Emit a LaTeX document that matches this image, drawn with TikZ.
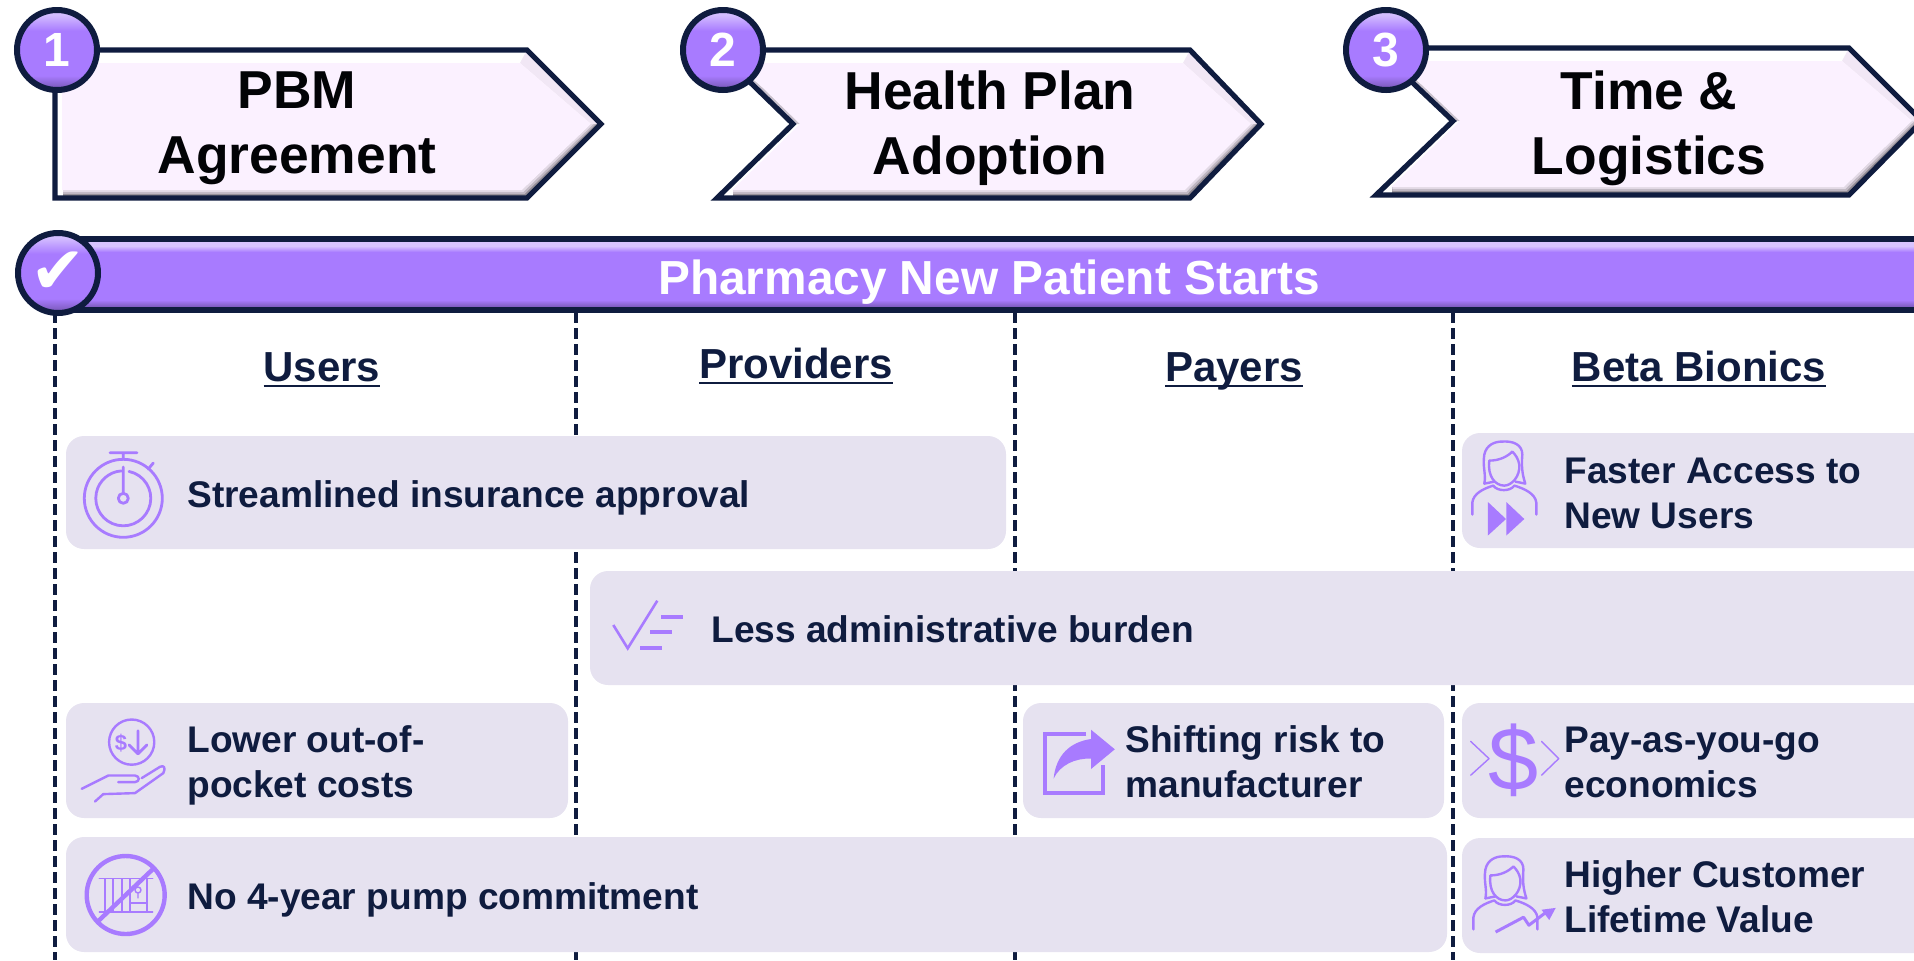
\documentclass[tikz,border=0pt]{standalone}
\usepackage{fontspec}
\setmainfont{Liberation Sans}
\newfontfamily\dejavu{DejaVu Sans}
\usepackage{tikz}
\definecolor{navy}{HTML}{0F1C3F}
\definecolor{violet}{HTML}{A87BFF}
\definecolor{cardgray}{HTML}{E6E2F0}
\definecolor{blush}{HTML}{FBF1FF}
\colorlet{glosstop}{violet!50!white}
\colorlet{glossbot}{violet!75!black}
\pgfdeclareverticalshading{gloss}{100bp}{color(0bp)=(glossbot);color(27bp)=(glossbot);color(34bp)=(violet);color(62bp)=(violet);color(72bp)=(glosstop);color(100bp)=(glosstop)}

\newcommand{\headline}[1]{\setbox0=\hbox{#1}\rlap{\rule[-3.2pt]{\wd0}{1.4pt}}\box0}

% left, notch, shoulder, tip, top, bottom, middle
\newcommand{\signpost}[7]{
  \fill[white] (#1,#5) -- (#3,#5) -- (#4,#7) -- (#3,#6) -- (#1,#6) -- (#2,#7) -- cycle;
  \fill[black!4!blush] (#3,#5) -- (#4,#7) -- ({#4-10},#7) -- ({#3-7},{#5+13}) -- cycle;
  \foreach \f/\g in {1/60,0.75/42,0.5/24,0.25/10}
    \fill[black!\g!blush] ({#4-10*(1-\f)},#7) -- ({#3-5*(1-\f)},{#6-8*(1-\f)}) -- ({#1+8+(#2-#1)*8/(#6-#7)},{#6-8*(1-\f)})
      -- ({#1+8+(#2-#1)*8/(#6-#7)},{#6-8}) -- ({#3-5},{#6-8}) -- ({#4-10},#7) -- cycle;
  \fill[black!20!blush] (#1,#5) -- (#2,#7) -- ({#2+14*(#2-#1)/76},#7) -- ({#1+16*(#2-#1)/76},{#5+13}) -- cycle;
  \fill[blush] ({#1+7+(#2-#1)*13/(#7-#5)},{#5+13}) -- ({#3-7},{#5+13}) -- ({#4-10},#7)
    -- ({#3-5},{#6-8}) -- ({#1+7+(#2-#1)*8/(#6-#7)},{#6-8}) -- ({#2+7},#7) -- cycle;
  \draw[outline] (#1,#5) -- (#3,#5) -- (#4,#7) -- (#3,#6) -- (#1,#6) -- (#2,#7) -- cycle;
}

\begin{document}
\begin{tikzpicture}[
  x=0.5pt,y=-0.5pt,
  outline/.style={draw=navy,line width=2.6pt,line join=miter},
  badge/.style={circle,draw=navy,line width=3pt,minimum size=40pt,inner sep=0pt,shading=gloss,text=white,font=\bfseries\fontsize{24}{24}\selectfont},
  title/.style={align=center,text=black!90!navy,font=\bfseries\fontsize{26.7}{32.5}\selectfont},
  head/.style={anchor=base,text=navy,font=\bfseries\fontsize{21}{24}\selectfont},
  card/.style={fill=cardgray,rounded corners=9pt},
  cardtext/.style={anchor=west,align=left,inner sep=0pt,text=navy,font=\bfseries\fontsize{18.55}{22.5}\selectfont},
  divider/.style={draw=navy,line width=1.9pt,dash pattern=on 5.5pt off 2.5pt},
  icon/.style={draw=violet,line width=1.2pt,line cap=round,line join=round},
  iconfill/.style={fill=violet},
  person/.pic={
    \draw[icon] (-19,17) .. controls (-17,8) and (-21,0) .. (-19,-12) .. controls (-17,-22) and (-8,-25) .. (-2,-25)
      .. controls (10,-26) and (19,-22) .. (19,-12) .. controls (18,0) and (19,8) .. (22,17) -- (12,15);
    \draw[icon] (-19,17) -- (-9,15);
    \draw[icon] (-14,-6) .. controls (-4,-6) and (4,-10) .. (9,-15) .. controls (12,-12) and (15,-8) .. (16,-2)
      .. controls (17,10) and (8,19) .. (1,19) .. controls (-8,19) and (-16,10) .. (-14,-6);
    \draw[icon] (-31,48) -- (-31,36) .. controls (-30,27) and (-20,22) .. (-10,19) .. controls (-6,25) and (7,25) .. (11,19)
      .. controls (21,22) and (32,27) .. (33,36) -- (33,48);
  }
  ]
  \useasboundingbox (0,0) rectangle (1914,960);

  % column rules
  \foreach \x in {55,576,1015,1453}
    \draw[divider] (\x,312) -- (\x,960);

  % top signposts
  \signpost{55}{55}{527}{601}{50}{198}{124}
  \signpost{717}{793}{1190}{1261}{50}{198}{124}
  \signpost{1376}{1453}{1849}{1922}{48}{195}{121}

  \node[badge] (one) at (57,50) {1};
  \node[badge] (two) at (723,50) {2};
  \node[badge] (three) at (1386,50) {3};

  \node[title] (pbm) at (297,128) {PBM\\Agreement};
  \node[title] (plan) at (990,128) {Health Plan\\Adoption};
  \node[title] (time) at (1649,128) {Time \&\\Logistics};

  % banner
  \fill[violet] (60,240) rectangle (1920,310);
  \fill[violet!45!white] (60,240) rectangle (1920,246);
  \shade[top color=violet!45!white,bottom color=violet] (60,246) rectangle (1920,252);
  \shade[top color=violet,bottom color=violet!65!black] (60,300) rectangle (1920,309);
  \draw[outline] (60,239) rectangle (1920,310);
  \node[text=white,font=\bfseries\fontsize{23.9}{24}\selectfont] (starts) at (989,282) {Pharmacy New Patient Starts};
  \node[badge,font=\dejavu\fontsize{33}{33}\selectfont] (check) at (58,273) {\raisebox{-2pt}{✔}};

  % column heads
  \node[head] (users) at (322,381) {\headline{Users}};
  \node[head] (providers) at (796,378) {\headline{Providers}};
  \node[head] (payers) at (1234,381) {\headline{Payers}};
  \node[head] (beta) at (1699,381) {\headline{Beta Bionics}};

  % cards
  \fill[card] (66,436) rectangle (1006,549);
  \fill[card] (1462,433) rectangle (1935,548);
  \fill[card] (590,571) rectangle (1935,685);
  \fill[card] (66,703) rectangle (568,818);
  \fill[card] (1023,703) rectangle (1444,818);
  \fill[card] (1462,703) rectangle (1935,818);
  \fill[card] (66,837) rectangle (1447,952);
  \fill[card] (1462,838) rectangle (1935,953);

  \node[cardtext] (approval) at (187,498) {Streamlined insurance approval};
  \node[cardtext] (faster) at (1564,493) {Faster Access to\\New Users};
  \node[cardtext] (burden) at (711,629) {Less administrative burden};
  \node[cardtext] (costs) at (187,765) {Lower out-of-\\pocket costs};
  \node[cardtext] (risk) at (1125,762) {Shifting risk to\\manufacturer};
  \node[cardtext] (payg) at (1564,762) {Pay-as-you-go\\economics};
  \node[cardtext] (pump) at (187,900) {No 4-year pump commitment};
  \node[cardtext] (value) at (1564,897) {Higher Customer\\Lifetime Value};

  % stopwatch
  \draw[icon,line width=1.4pt] (123.3,498.3) circle (39);
  \draw[icon,line width=1.4pt] (129,471.4) arc (-78:266:27.5);
  \draw[icon,line width=1.4pt] (123.3,498.3) circle (5);
  \draw[icon,line width=1.4pt] (123.3,493) -- (123.3,467) (110,452.7) -- (137,452.7) (123.3,453) -- (123.3,459) (148.3,469) -- (153.3,463);

  % hand and coin
  \begin{scope}[shift={(0,4.8)}]
    \draw[icon] (131.7,737.3) circle (22.6);
    \node[text=violet,inner sep=0pt,font=\bfseries\fontsize{11}{11}\selectfont] (dollarsmall) at (121,738) {\$};
    \draw[icon,line width=1.4pt] (138,726) -- (138,749) (129,740) -- (138,749) -- (147,740);
    \draw[icon] (81.7,784) -- (108.3,770.7) -- (135,770.7) .. controls (140,771) and (140,777) .. (135,777.3) -- (118.3,777.3);
    \draw[icon] (95,796.7) -- (103.3,789.3) -- (135,788.3) -- (163.3,768.3) .. controls (166,763) and (164,760) .. (160,762) -- (141.7,773.3);
  \end{scope}

  % no lock-in
  \begin{scope}[shift={(0,6)}]
    \draw[icon,line width=0.7pt] (99.3,872.7) -- (152.7,872.7) (99.3,906) -- (152.7,906) (130,897) -- (147,897);
    \foreach \x in {105,113,122,130,147}
      \draw[icon,line width=0.7pt] (\x,872.7) -- (\x,906);
    \draw[icon,line width=0.7pt] (138,884) circle (3) (138,887) -- (138,892);
    \draw[icon,line width=2.2pt] (125.7,889) circle (39);
    \draw[icon,line width=2.2pt] (98.3,915) -- (152.7,863.3);
  \end{scope}

  % check with lines
  \draw[icon,line width=1.3pt,line cap=butt,line join=miter] (613.3,625) -- (627.7,648.3) -- (657.3,600.7);
  \draw[icon,line width=2pt,line cap=butt] (661,616.7) -- (682.7,616.7) (650,632.3) -- (672.3,632.3) (640,648) -- (662.3,648);

  % share arrow
  \draw[draw=violet,line width=1.8pt,line join=miter] (1086,734) -- (1045,734) -- (1045,793) -- (1103,793) -- (1103,765);
  \fill[iconfill] (1114.8,749.3) -- (1091,729.7) -- (1091,739) .. controls (1070,742) and (1056,755) .. (1053.6,778.6)
    .. controls (1060,765) and (1075,758) .. (1091,758.6) -- (1091,769) -- cycle;

  % dollar with chevrons
  \node[text=violet,inner sep=0pt,font=\fontsize{45}{45}\selectfont] (dollar) at (1513,760) {\$};
  \draw[icon,line width=0.7pt] (1470.7,741.4) -- (1489,758.6) -- (1470.7,775.2);
  \draw[icon,line width=0.7pt] (1541.5,741.4) -- (1558.7,758.6) -- (1541.5,775.2);

  % user icons
  \pic at (1503.3,466.6) {person};
  \fill[iconfill] (1487.9,502) -- (1506,519) -- (1487.9,535.5) -- cycle;
  \fill[iconfill] (1506.3,502) -- (1524.3,519) -- (1506.3,535.5) -- cycle;
  \pic at (1504.4,881.4) {person};
  \draw[icon,line width=1.5pt,line cap=butt] (1495.6,932) -- (1523.5,917.2) -- (1528.9,925.2) -- (1547.2,911.4);
  \fill[iconfill] (1555.7,907.9) -- (1541.5,909.7) -- (1549.2,920) -- cycle;
\end{tikzpicture}
\end{document}
